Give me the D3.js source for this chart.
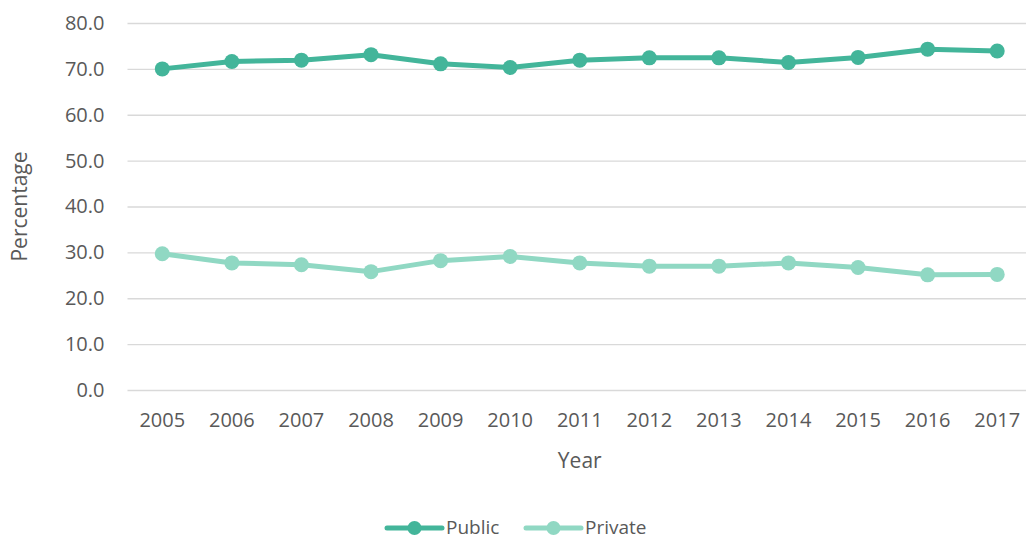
<!DOCTYPE html>
<html>
<head>
<meta charset="utf-8">
<script src="https://cdn.jsdelivr.net/npm/d3@7"></script>
<style>
  body { margin: 0; background: #fff; }
  text { font-family: "Open Sans", sans-serif; fill: #595959; }
</style>
</head>
<body>
<div id="chart"></div>
<script>
// --------------------------------------
//  Data
// --------------------------------------

const years = ["2005", "2006", "2007", "2008", "2009", "2010", "2011", "2012", "2013", "2014", "2015", "2016", "2017"];
const publicValues = [70.0, 71.6, 71.9, 73.1, 71.1, 70.3, 71.9, 72.4, 72.4, 71.4, 72.5, 74.3, 73.9];
const privateValues = [29.7, 27.7, 27.3, 25.8, 28.2, 29.1, 27.7, 27.0, 27.0, 27.7, 26.7, 25.1, 25.2];
const yTicks = [0, 10, 20, 30, 40, 50, 60, 70, 80];

const series = [
  { name: "Public", values: publicValues, color: "#43B59A" },
  { name: "Private", values: privateValues, color: "#90D8C3" }
];

// --------------------------------------
//  Canvas
// --------------------------------------

const width = 1026;
const height = 541;
const margin = { top: 23, right: -6, bottom: 151, left: 127.5 };
const innerwidth = width - margin.left - margin.right;
const innerheight = height - margin.top - margin.bottom;

const svg = d3
  .select("#chart")
  .append("svg")
  .attr("width", width)
  .attr("height", height);

const innerChart = svg
  .append("g")
  .attr("transform", `translate(${margin.left}, ${margin.top})`);

// --------------------------------------
//  Scales
// --------------------------------------

const x = d3.scaleBand(years, [0, innerwidth]);
const y = d3.scaleLinear([0, 80], [innerheight, 0]);
const cx = (year) => x(year) + x.bandwidth() / 2;

// --------------------------------------
//  Axes
// --------------------------------------

innerChart
  .append("g")
  .attr("class", "y-axis")
  .call(d3.axisLeft(y).tickValues(yTicks).tickSize(-innerwidth).tickPadding(23).tickFormat(d3.format(".1f")))
  .call((g) => g.select(".domain").remove())
  .call((g) => g.selectAll("line").attr("stroke", "#D9D9D9").attr("stroke-width", 1.3))
  .call((g) => g.selectAll("text").attr("font-size", 20).attr("fill", "#595959"));

innerChart
  .append("g")
  .attr("class", "x-axis")
  .attr("transform", `translate(0, ${innerheight})`)
  .call(d3.axisBottom(x).tickSize(0).tickPadding(23))
  .call((g) => g.select(".domain").remove())
  .call((g) => g.selectAll("text").attr("font-size", 20).attr("fill", "#595959"));

svg
  .append("text")
  .attr("x", margin.left + innerwidth / 2)
  .attr("y", 461)
  .attr("dy", "0.35em")
  .attr("text-anchor", "middle")
  .attr("font-size", 21)
  .text("Year");

svg
  .append("text")
  .attr("transform", `translate(20, ${margin.top + innerheight / 2}) rotate(-90)`)
  .attr("dy", "0.35em")
  .attr("text-anchor", "middle")
  .attr("font-size", 21)
  .text("Percentage");

// --------------------------------------
//  Lines
// --------------------------------------

const line = d3
  .line()
  .x((d, i) => cx(years[i]))
  .y((d) => y(d));

series.forEach((s) => {
  innerChart
    .append("path")
    .datum(s.values)
    .attr("fill", "none")
    .attr("stroke", s.color)
    .attr("stroke-width", 5)
    .attr("stroke-linejoin", "round")
    .attr("d", line);

  innerChart
    .selectAll(null)
    .data(s.values)
    .join("circle")
    .attr("cx", (d, i) => cx(years[i]))
    .attr("cy", (d) => y(d))
    .attr("r", 7.5)
    .attr("fill", s.color);
});

// --------------------------------------
//  Legend
// --------------------------------------

const legendX = [387, 526];
const legend = svg
  .selectAll("g.legend")
  .data(series)
  .join("g")
  .attr("class", "legend")
  .attr("transform", (d, i) => `translate(${legendX[i]}, 528)`);

legend
  .append("line")
  .attr("x1", 0)
  .attr("x2", 55)
  .attr("stroke", (d) => d.color)
  .attr("stroke-width", 5)
  .attr("stroke-linecap", "round");

legend
  .append("circle")
  .attr("cx", 27.5)
  .attr("r", 7)
  .attr("fill", (d) => d.color);

legend
  .append("text")
  .attr("x", 59)
  .attr("dy", "0.3em")
  .attr("font-size", 19)
  .text((d) => d.name);
</script>
</body>
</html>
